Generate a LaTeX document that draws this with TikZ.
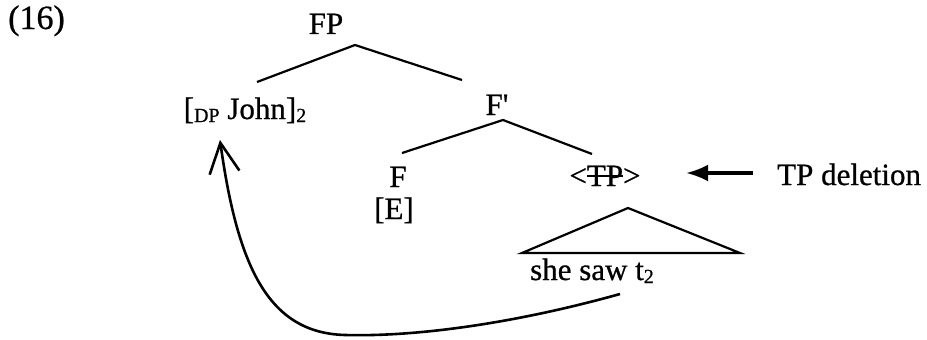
\documentclass[tikz,border=0pt]{standalone}
\usepackage{fontspec}
\setmainfont{Liberation Serif}[Ligatures=TeXOff,FakeBold=0.7]
\usetikzlibrary{arrows.meta}
\newcommand\strk[1]{\setbox0\hbox{#1}\rlap{\rule[0.3em]{\wd0}{1.6pt}}\box0}
\newcommand\smallsub[1]{\raisebox{-3pt}{\fontsize{20}{22}\selectfont #1}}
\begin{document}
\begin{tikzpicture}[x=1pt,y=-1pt,
  lbl/.style={inner sep=0pt,anchor=base,font=\fontsize{31}{36}\selectfont},
  branch/.style={line width=2.2pt},
  move/.style={line width=2.6pt,-{Straight Barb[length=30pt,width=30pt]}},
  point/.style={line width=3.5pt,-{Latex[length=22pt,width=17pt]}}]
\useasboundingbox (0,0) rectangle (927,340);
\node[lbl,anchor=base west,font=\fontsize{34}{38}\selectfont] (ex) at (8,29) {(16)};
\node[lbl] (fp) at (326,34) {FP};
\node[lbl] (dp) at (245,119) {[\smallsub{DP} John]\smallsub{2}};
\node[lbl] (fbar) at (497,115) {F'};
\node[lbl] (f) at (398,187) {F};
\node[lbl] (e) at (394,219) {[E]};
\node[lbl] (tp) at (605,186) {<\strk{TP}>};
\node[lbl,anchor=base west] (del) at (777,185) {TP deletion};
\node[lbl] (ssw) at (592,280) {she saw t\smallsub{2}};
\coordinate (fpapex) at (355,45);
\coordinate (fpl) at (257,82);
\coordinate (fpr) at (462,80);
\coordinate (fbapex) at (503,120);
\coordinate (fbl) at (402,153);
\coordinate (fbr) at (592,154);
\coordinate (triapex) at (628,208);
\coordinate (tril) at (522,253);
\coordinate (trir) at (740,253);
\coordinate (t2) at (620,294);
\coordinate (bend) at (345,335);
\coordinate (johnfoot) at (220,140);
\coordinate (arrtail) at (753,173);
\coordinate (arrhead) at (686,173);
\draw[branch] (fpl) -- (fpapex) -- (fpr);
\draw[branch] (fbl) -- (fbapex) -- (fbr);
\draw[branch,line join=miter] (triapex) -- (tril) -- (trir) -- cycle;
\draw[move] (t2) .. controls (520,322) and (420,337) .. (bend)
  .. controls (270,333) and (238,270) .. (johnfoot);
\draw[point] (arrtail) -- (arrhead);
\end{tikzpicture}
\end{document}
